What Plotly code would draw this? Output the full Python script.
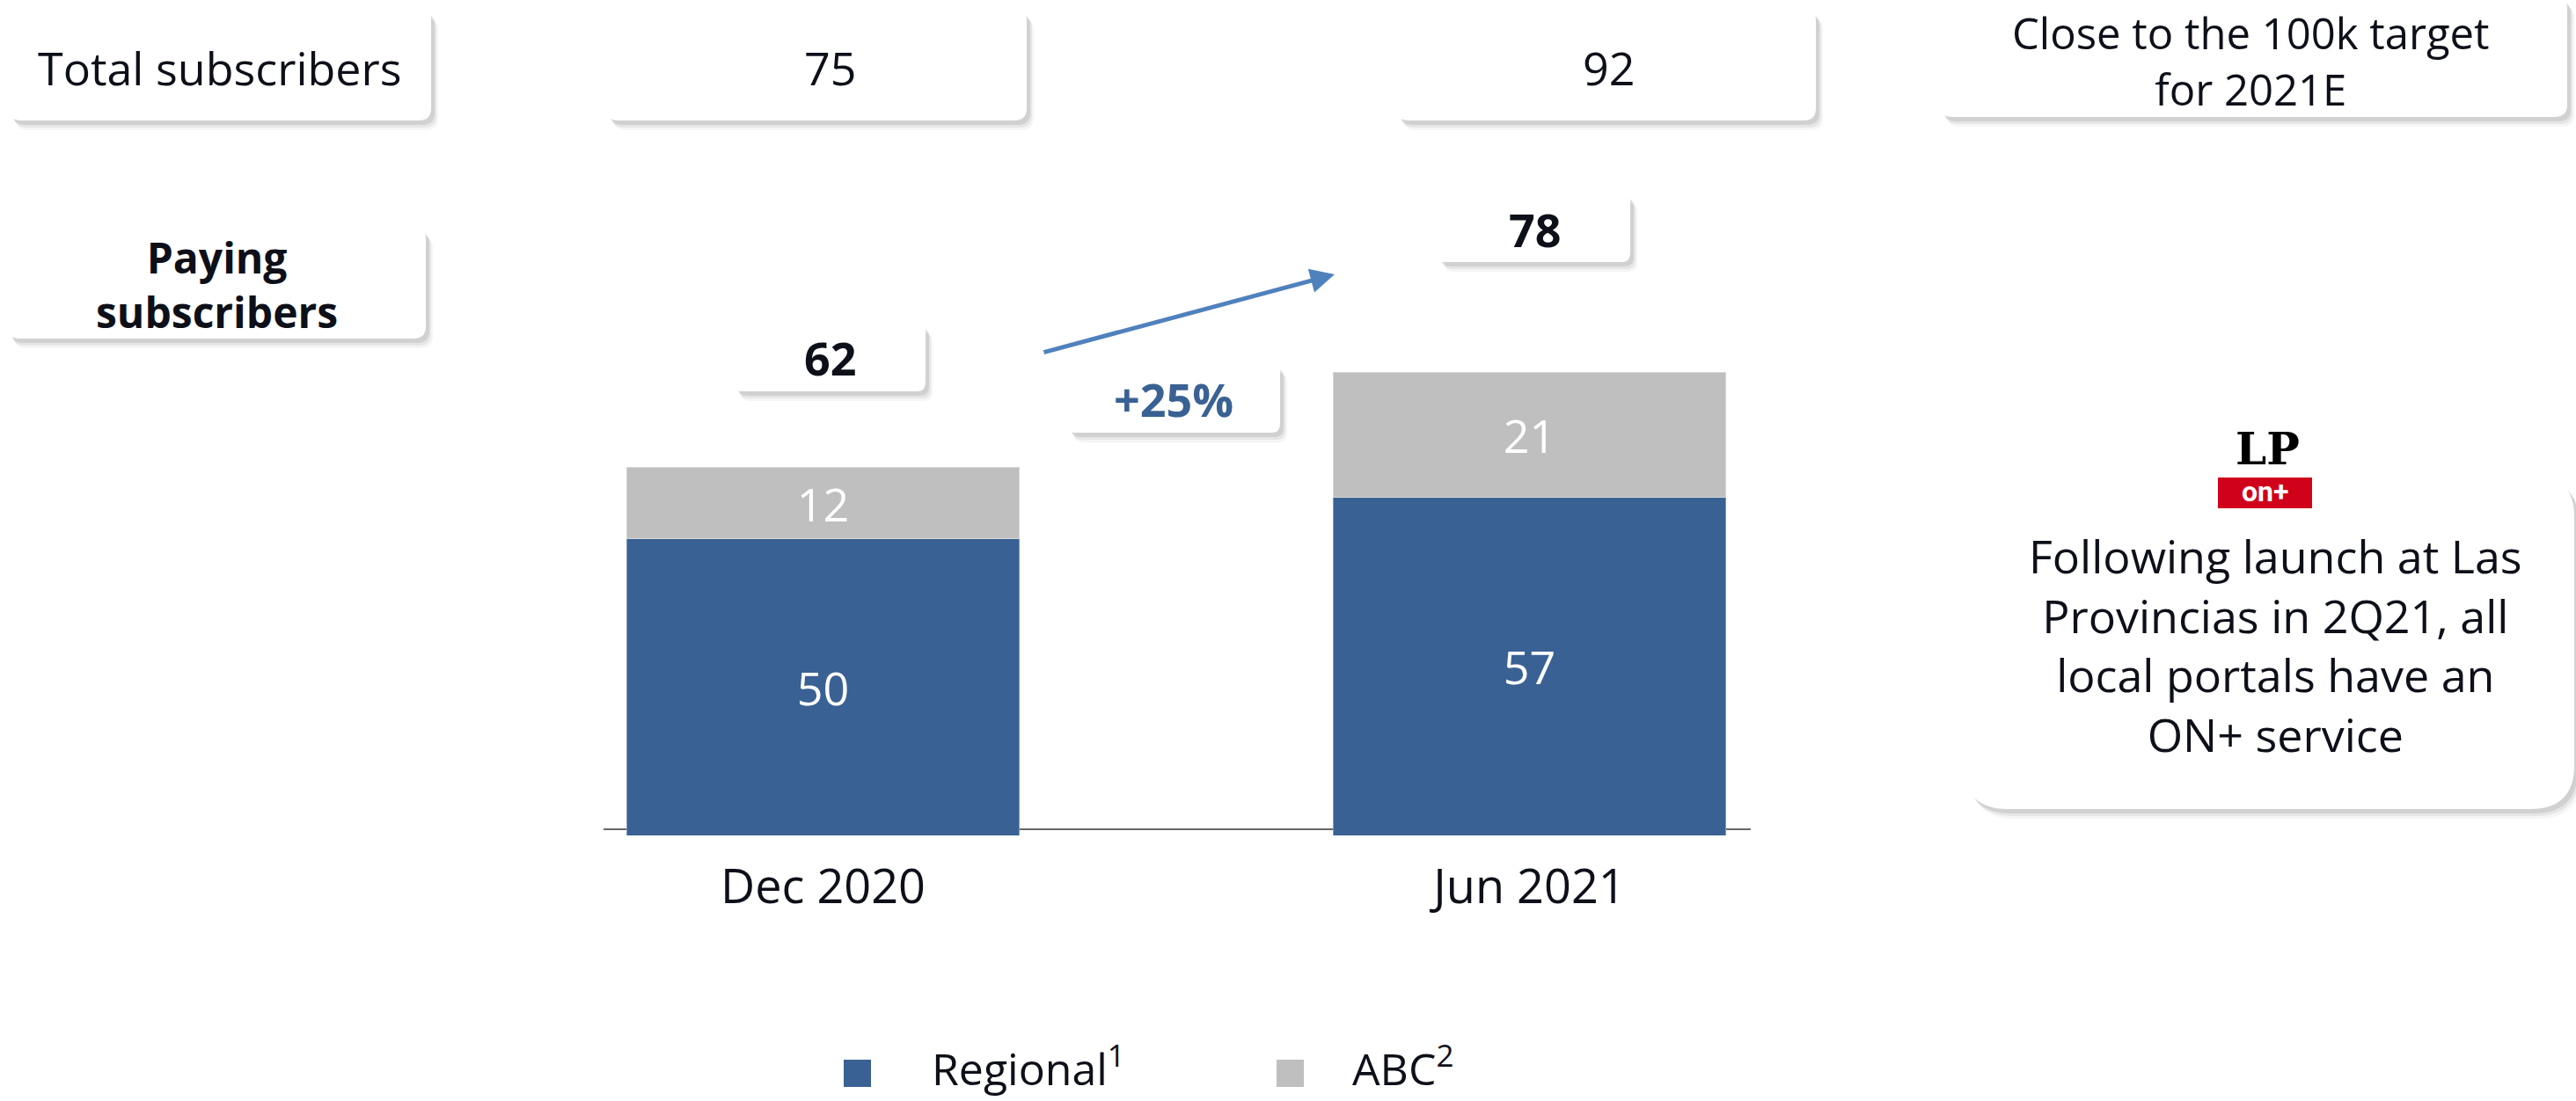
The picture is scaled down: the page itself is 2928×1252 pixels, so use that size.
import plotly.graph_objects as go

# ---- data -----------------------------------------------------------------
categories = ["Dec 2020", "Jun 2021"]
regional = [50, 57]          # Regional paying subscribers (k)
abc = [12, 21]               # ABC paying subscribers (k)
total_subscribers = [75, 92] # total subscribers (k)
growth_label = "+25%"
series_names = ["Regional<sup>1</sup>", "ABC<sup>2</sup>"]
paying = [r + a for r, a in zip(regional, abc)]

# ---- styling --------------------------------------------------------------
W, H = 2928, 1252
FONT = "Open Sans"
TXT = "#0E1019"
BLUE = "#3A6193"
GREY = "#BFBFBF"
ARROW = "#4F81BD"
PX_PER_UNIT = 6.75
BASE_PX = 950


def px(x):
    return x / W


def py(y):
    return 1 - y / H


def rrect_path(x0, y0, x1, y1, r):
    pts = [
        ("M", [(x0 + r, y0)]),
        ("L", [(x1 - r, y0)]),
        ("Q", [(x1, y0), (x1, y0 + r)]),
        ("L", [(x1, y1 - r)]),
        ("Q", [(x1, y1), (x1 - r, y1)]),
        ("L", [(x0 + r, y1)]),
        ("Q", [(x0, y1), (x0, y1 - r)]),
        ("L", [(x0, y0 + r)]),
        ("Q", [(x0, y0), (x0 + r, y0)]),
    ]
    out = []
    for cmd, ps in pts:
        out.append(cmd + " " + " ".join(f"{px(a):.5f},{py(b):.5f}" for a, b in ps))
    return " ".join(out) + " Z"


shapes = []


def card(x0, y0, x1, y1, r=14):
    # soft drop shadow towards the lower right, then the white card
    for dx, dy, a in [(8, 11, 0.05), (6, 8, 0.08), (4, 5, 0.12)]:
        shapes.append(dict(type="path", xref="paper", yref="paper",
                           path=rrect_path(x0 + dx, y0 + dy, x1 + dx, y1 + dy, r),
                           fillcolor=f"rgba(60,60,60,{a})", line=dict(width=0),
                           layer="above"))
    shapes.append(dict(type="path", xref="paper", yref="paper",
                       path=rrect_path(x0, y0, x1, y1, r),
                       fillcolor="white", line=dict(width=0), layer="above"))


annotations = []


def label(x, y, text, size=52, color=TXT, bold=False, xanchor="center",
          family=FONT):
    annotations.append(dict(
        x=px(x), y=py(y), xref="paper", yref="paper", text=text,
        showarrow=False, xanchor=xanchor, yanchor="middle",
        font=dict(family=family, size=size, color=color,
                  weight="bold" if bold else "normal")))


# ---- header row: total subscribers ----------------------------------------
card(10, 10, 490, 137)
card(689, 10, 1167, 137)
card(1587, 10, 2064, 137)
card(2205, -4, 2918, 133)
label(250, 76, "Total subscribers")
label(943, 76, str(total_subscribers[0]))
label(1828, 76, str(total_subscribers[1]))
label(2558, 69, "Close to the 100k target<br>for 2021E", size=49)

# ---- paying subscribers callouts ------------------------------------------
card(8, 258, 484, 385)
label(246, 323, "Paying<br>subscribers", size=48, bold=True)
card(834, 368, 1052, 445, 10)
label(943, 407, str(paying[0]), bold=True)
card(1634, 220, 1853, 298, 10)
label(1744, 260, str(paying[1]), bold=True)
card(1213, 414, 1455, 492, 10)
label(1334, 453, growth_label, color=BLUE, bold=True)

# growth arrow
annotations.append(dict(
    x=px(1517), y=py(312), xref="paper", yref="paper", text="",
    showarrow=True, ax=1185 - 1517, ay=401 - 312, axref="pixel", ayref="pixel",
    arrowhead=2, arrowsize=1.1, arrowwidth=5, arrowcolor=ARROW, standoff=0))

# ---- right-hand note with logo ---------------------------------------------
card(2232, 538, 2926, 920, 50)
label(2586, 733,
      "Following launch at Las<br>Provincias in 2Q21, all<br>"
      "local portals have an<br>ON+ service")
label(2577, 510, "LP", size=50, color="#000000", bold=True,
      family="DejaVu Serif")
shapes.append(dict(type="rect", xref="paper", yref="paper",
                   x0=px(2521), x1=px(2628), y0=py(578), y1=py(543),
                   fillcolor="#D0021B", line=dict(width=0), layer="above"))
label(2574, 559, "on+", size=32, color="white", bold=True, family="Roboto")

# ---- baseline of the bar chart ---------------------------------------------
shapes.append(dict(type="line", xref="paper", yref="paper",
                   x0=px(686), x1=px(1990), y0=py(943), y1=py(943),
                   line=dict(color="#666666", width=2), layer="below"))

# ---- legend ------------------------------------------------------------------
legend_items = [(959, 1057, BLUE, series_names[0]),
                (1451, 1535, GREY, series_names[1])]
for sx, tx, col, name in legend_items:
    shapes.append(dict(type="rect", xref="paper", yref="paper",
                       x0=px(sx), x1=px(sx + 31), y0=py(1236), y1=py(1205),
                       fillcolor=col, line=dict(width=0), layer="above"))
    label(tx, 1212, name, size=50, xanchor="left")

# ---- bars --------------------------------------------------------------------
bar_width = 0.556
fig = go.Figure()
fig.add_trace(go.Bar(
    x=categories, y=regional, name=series_names[0], width=bar_width,
    marker=dict(color=BLUE, line=dict(color="#7E9BC2", width=1)),
    text=regional, textposition="inside", insidetextanchor="middle",
    constraintext="none",
    textfont=dict(family=FONT, size=52, color="white"), showlegend=False))
fig.add_trace(go.Bar(
    x=categories, y=abc, name=series_names[1], width=bar_width,
    marker=dict(color=GREY, line=dict(color="#D6D6D6", width=1)),
    text=abc, textposition="inside", insidetextanchor="middle",
    constraintext="none",
    textfont=dict(family=FONT, size=52, color="white"), showlegend=False))

fig.update_layout(
    width=W, height=H, barmode="stack",
    margin=dict(l=0, r=0, t=0, b=0, pad=0),
    paper_bgcolor="white", plot_bgcolor="rgba(0,0,0,0)",
    shapes=shapes, annotations=annotations, showlegend=False,
    xaxis=dict(type="category", domain=[px(534), px(2140)],
               range=[-0.5, 1.5], showline=False, showgrid=False,
               zeroline=False, ticks="", ticklabelstandoff=22,
               tickfont=dict(family=FONT, size=54, color=TXT)),
    yaxis=dict(domain=[py(BASE_PX), 1], range=[0, BASE_PX / PX_PER_UNIT],
               visible=False, showgrid=False, zeroline=False),
)

fig.write_html("out.html")
